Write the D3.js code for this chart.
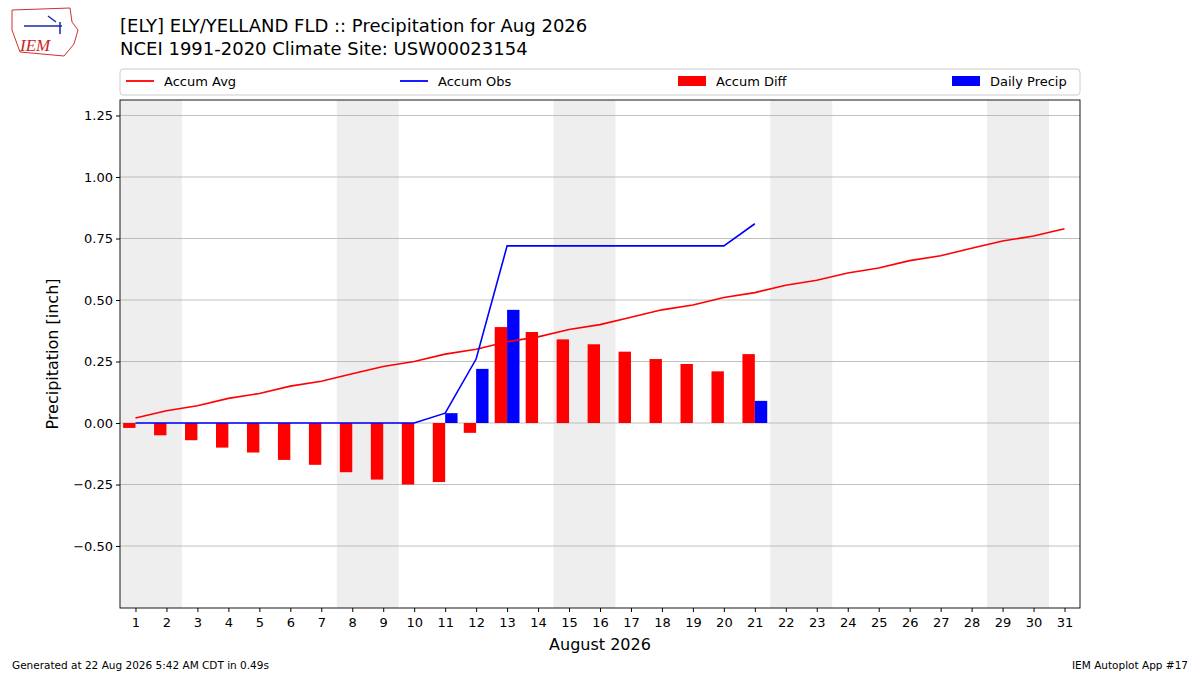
<!DOCTYPE html>
<html lang="en">
<head>
<meta charset="UTF-8">
<title>Precipitation for Aug 2026</title>
<script src="https://d3js.org/d3.v7.min.js"></script>
<style>
  body { margin: 0; background: #fff; font-family: "DejaVu Sans", sans-serif; }
</style>
</head>
<body>
<div id="chart"></div>
<script>
// data
const days = d3.range(1, 32);
const accumAvg = [0.02, 0.05, 0.07, 0.10, 0.12, 0.15, 0.17, 0.20, 0.23, 0.25, 0.28, 0.30, 0.33, 0.35, 0.38, 0.40,
  0.43, 0.46, 0.48, 0.51, 0.53, 0.56, 0.58, 0.61, 0.63, 0.66, 0.68, 0.71, 0.74, 0.76, 0.79];
const obsDays = d3.range(1, 22);
const accumObs = [0, 0, 0, 0, 0, 0, 0, 0, 0, 0, 0.04, 0.26, 0.72, 0.72, 0.72, 0.72, 0.72, 0.72, 0.72, 0.72, 0.81];
const accumDiff = [-0.02, -0.05, -0.07, -0.10, -0.12, -0.15, -0.17, -0.20, -0.23, -0.25, -0.24, -0.04, 0.39, 0.37,
  0.34, 0.32, 0.29, 0.26, 0.24, 0.21, 0.28];
const dailyPrecip = [0, 0, 0, 0, 0, 0, 0, 0, 0, 0, 0.04, 0.22, 0.46, 0, 0, 0, 0, 0, 0, 0, 0.09];
const weekends = [1, 8, 15, 22, 29];
const yTicks = [-0.5, -0.25, 0, 0.25, 0.5, 0.75, 1.0, 1.25];

const width = 1200, height = 675;
const pL = 120, pR = 1080, pT = 100, pB = 608;

const svg = d3.select("#chart").append("svg")
  .attr("width", width).attr("height", height)
  .style("font-family", "'DejaVu Sans', sans-serif");

const x = d3.scaleLinear().domain([0.5, 31.5]).range([pL, pR]);
const y = d3.scaleLinear().domain([-0.752, 1.313]).range([pB, pT]);
const w = x(0.4) - x(0);

// weekend shading
svg.selectAll("rect.wk").data(weekends).enter().append("rect")
  .attr("x", d => x(d - 0.5)).attr("width", x(2) - x(0))
  .attr("y", pT).attr("height", pB - pT)
  .attr("fill", "#eeeeee");

// grid
svg.selectAll("line.grid").data(yTicks).enter().append("line")
  .attr("x1", pL).attr("x2", pR)
  .attr("y1", d => y(d)).attr("y2", d => y(d))
  .attr("stroke", "#b0b0b0").attr("stroke-width", 0.8);

// bars
svg.selectAll("rect.diff").data(accumDiff).enter().append("rect")
  .attr("x", (d, i) => x(obsDays[i] - 0.4))
  .attr("width", w)
  .attr("y", d => y(Math.max(0, d)))
  .attr("height", d => Math.abs(y(d) - y(0)))
  .attr("fill", "red");

svg.selectAll("rect.daily").data(dailyPrecip).enter().append("rect")
  .attr("x", (d, i) => x(obsDays[i]))
  .attr("width", w)
  .attr("y", d => y(Math.max(0, d)))
  .attr("height", d => Math.abs(y(d) - y(0)))
  .attr("fill", "blue");

// lines
const line = d3.line().x(d => x(d[0])).y(d => y(d[1]));
svg.append("path").datum(days.map((d, i) => [d, accumAvg[i]]))
  .attr("d", line).attr("fill", "none").attr("stroke", "red").attr("stroke-width", 1.6);
svg.append("path").datum(obsDays.map((d, i) => [d, accumObs[i]]))
  .attr("d", line).attr("fill", "none").attr("stroke", "blue").attr("stroke-width", 1.6);

// frame
svg.append("rect").attr("x", pL).attr("y", pT)
  .attr("width", pR - pL).attr("height", pB - pT)
  .attr("fill", "none").attr("stroke", "#000").attr("stroke-width", 0.9);

// axes
const xAxis = svg.append("g").attr("transform", `translate(0,${pB})`)
  .call(d3.axisBottom(x).tickValues(days).tickFormat(d3.format("d")).tickSizeOuter(0).tickSize(4));
xAxis.select(".domain").remove();
xAxis.selectAll("text").attr("font-size", 13).attr("font-family", "DejaVu Sans").attr("dy", "0.9em");

const yAxis = svg.append("g").attr("transform", `translate(${pL},0)`)
  .call(d3.axisLeft(y).tickValues(yTicks).tickFormat(d => d3.format(".2f")(d).replace("-", "\u2212")).tickSize(4));
yAxis.select(".domain").remove();
yAxis.selectAll("text").attr("font-size", 13).attr("font-family", "DejaVu Sans");

svg.append("text").attr("x", (pL + pR) / 2).attr("y", 650)
  .attr("text-anchor", "middle").attr("font-size", 16).text("August 2026");
svg.append("text").attr("transform", `translate(58,${(pT + pB) / 2}) rotate(-90)`)
  .attr("text-anchor", "middle").attr("font-size", 16).text("Precipitation [inch]");

// titles
svg.append("text").attr("x", 120).attr("y", 32).attr("font-size", 18)
  .text("[ELY] ELY/YELLAND FLD :: Precipitation for Aug 2026");
svg.append("text").attr("x", 120).attr("y", 55).attr("font-size", 18)
  .text("NCEI 1991-2020 Climate Site: USW00023154");

// legend
svg.append("rect").attr("x", 120).attr("y", 69).attr("width", 960).attr("height", 26)
  .attr("rx", 3).attr("fill", "#fff").attr("stroke", "#ccc");
const legend = [
  {label: "Accum Avg", color: "red", type: "line", x: 126},
  {label: "Accum Obs", color: "blue", type: "line", x: 400},
  {label: "Accum Diff", color: "red", type: "bar", x: 678},
  {label: "Daily Precip", color: "blue", type: "bar", x: 952}
];
legend.forEach(l => {
  if (l.type === "line") {
    svg.append("line").attr("x1", l.x).attr("x2", l.x + 28).attr("y1", 81).attr("y2", 81)
      .attr("stroke", l.color).attr("stroke-width", 1.8);
  } else {
    svg.append("rect").attr("x", l.x).attr("y", 76).attr("width", 28).attr("height", 10).attr("fill", l.color);
  }
  svg.append("text").attr("x", l.x + 38).attr("y", 86).attr("font-size", 13).text(l.label);
});

// logo (approximate)
svg.append("path").attr("d", "M12,10 L70,8 L72,22 L78,30 L74,44 L64,56 L20,52 L12,30 Z")
  .attr("fill", "none").attr("stroke", "#c33").attr("stroke-width", 1);
svg.append("text").attr("x", 20).attr("y", 51).attr("font-size", 17).attr("font-style", "italic")
  .attr("font-family", "Liberation Serif").attr("fill", "#c22").text("IEM");
svg.append("path").attr("d", "M24,26 L62,26 M48,16 L56,22 M60,22 L60,34")
  .attr("stroke", "#1a2aa8").attr("stroke-width", 1.5).attr("fill", "none");

// footer
svg.append("text").attr("x", 12).attr("y", 669).attr("font-size", 10.5)
  .text("Generated at 22 Aug 2026 5:42 AM CDT in 0.49s");
svg.append("text").attr("x", 1188).attr("y", 669).attr("font-size", 10.5).attr("text-anchor", "end")
  .text("IEM Autoplot App #17");
</script>
</body>
</html>
